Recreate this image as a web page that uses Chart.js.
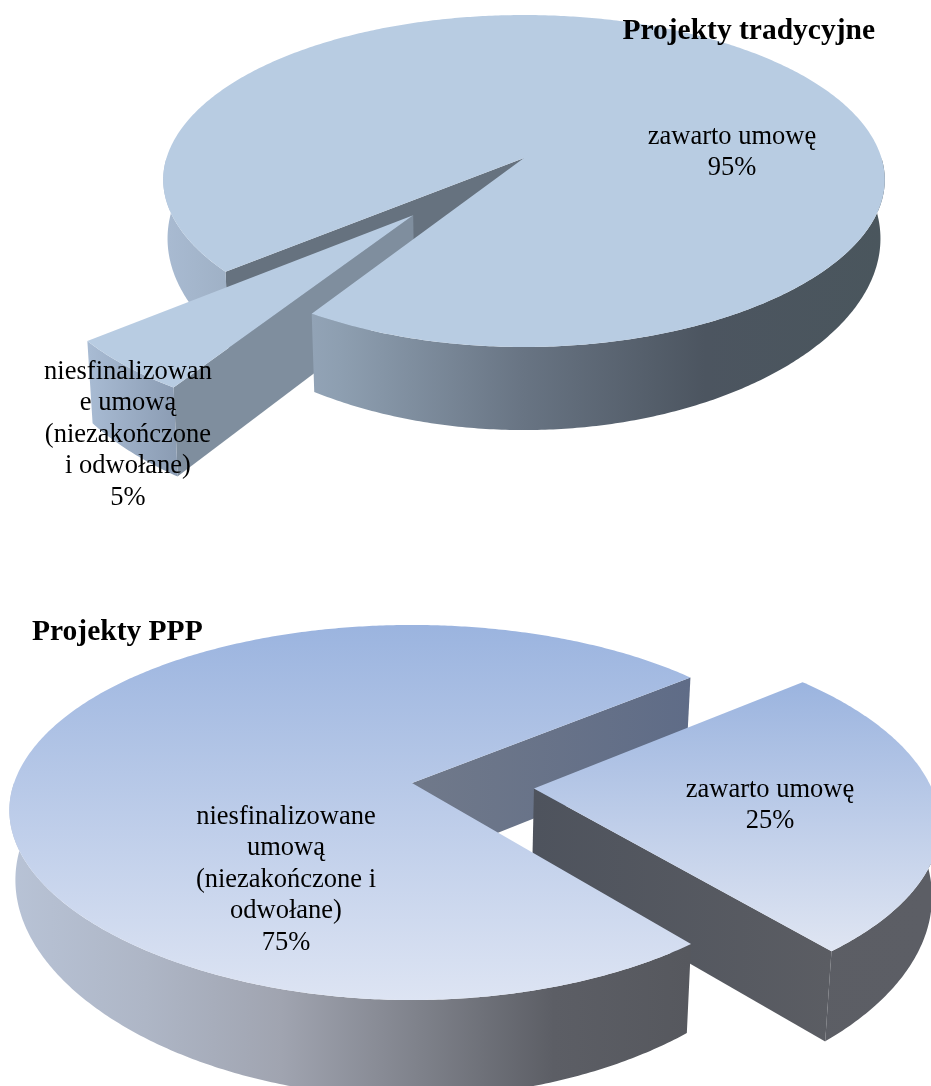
<!DOCTYPE html>
<html>
<head>
    <meta charset="utf-8">
    <script src="https://cdnjs.cloudflare.com/ajax/libs/Chart.js/4.4.1/chart.umd.min.js"></script>
    <style>
        html, body { margin: 0; background: #fff; overflow: hidden; }
        #wrap { position: relative; width: 931px; height: 1086px; }
        canvas { position: absolute; left: 0; }
    </style>
</head>
<body>
    <div id="wrap">
        <canvas id="chartTraditional" width="931" height="540" style="top:0"></canvas>
        <canvas id="chartPpp" width="931" height="486" style="top:600px"></canvas>
    </div>

    <script>
        const traditionalTitle = 'Projekty tradycyjne';
        const traditionalCategories = ['zawarto umowę', 'niesfinalizowane umową (niezakończone i odwołane)'];
        const traditionalLabelLines = [['zawarto umowę'], ['niesfinalizowan', 'e umową', '(niezakończone', 'i odwołane)']];
        const traditionalValues = [95, 5];
        const traditionalExplode = [0, 0.447];

        const pppTitle = 'Projekty PPP';
        const pppCategories = ['zawarto umowę', 'niesfinalizowane umową (niezakończone i odwołane)'];
        const pppLabelLines = [['zawarto umowę'], ['niesfinalizowane', 'umową', '(niezakończone i', 'odwołane)']];
        const pppValues = [25, 75];
        const pppExplode = [0.308, 0];

        const OFFSET_UNIT = 100;
        const LABEL_FONT = '26.5px "Liberation Serif"';
        const LINE_HEIGHT = 31.5;

        // perspective of the pie disc, the library only gives us the angles
        function project(view, u, v) {
            const w = 1 - view.p * v;
            const a = u > 0 ? view.Ar : view.A;
            return [view.cx + a * u / w, view.cy + view.B * v / w];
        }

        // bottom edge of a wall: rim and cut faces sink by different amounts
        function lowered(view, pt, depth, slope) {
            return [
                view.cx + (pt[0] - view.cx) * view.k,
                pt[1] + depth + slope * (pt[1] - view.cy)
            ];
        }

        function sliceGeometry(view, arc) {
            const frac = arc.options.offset / OFFSET_UNIT;
            const mid = (arc.startAngle + arc.endAngle) / 2;
            const ou = Math.cos(mid) * frac;
            const ov = Math.sin(mid) * frac;
            return {
                apex: project(view, ou, ov),
                at: a => {
                    // the near half of the disc comes in a little narrower
                    const s = Math.max(Math.sin(a), 0);
                    return project(view, ou + Math.cos(a) * (1 - view.q * s * s), ov + Math.sin(a));
                },
                start: arc.startAngle,
                end: arc.endAngle
            };
        }

        function hGradient(ctx, x0, x1, stops) {
            const g = ctx.createLinearGradient(x0, 0, x1, 0);
            stops.forEach((c, i) => g.addColorStop(stops.length > 1 ? i / (stops.length - 1) : 0, c));
            return g;
        }

        function fillPath(ctx, pts, fill) {
            ctx.beginPath();
            pts.forEach((p, i) => i ? ctx.lineTo(p[0], p[1]) : ctx.moveTo(p[0], p[1]));
            ctx.closePath();
            ctx.fillStyle = fill;
            ctx.fill();
        }

        function arcPoints(geo, a0, a1) {
            const n = Math.max(2, Math.ceil(Math.abs(a1 - a0) / 0.01));
            const pts = [];
            for (let i = 0; i <= n; i++) {
                pts.push(geo.at(a0 + (a1 - a0) * i / n));
            }
            return pts;
        }

        // parts of the rim that face the viewer (sin > 0)
        function frontSegments(a0, a1) {
            const segs = [];
            const tau = Math.PI * 2;
            for (let k = Math.floor(a0 / tau) - 1; k <= Math.ceil(a1 / tau); k++) {
                const lo = Math.max(a0, k * tau);
                const hi = Math.min(a1, k * tau + Math.PI);
                if (hi > lo) segs.push([lo, hi]);
            }
            return segs;
        }

        function drawRadial(ctx, view, geo, angle, style) {
            const q = geo.at(angle);
            const pts = [
                geo.apex, q,
                lowered(view, q, view.cutDepth, view.cutSlope),
                lowered(view, geo.apex, view.cutDepth, view.cutSlope)
            ];
            fillPath(ctx, pts, hGradient(ctx, Math.min(geo.apex[0], q[0]), Math.max(geo.apex[0], q[0]), style.radial));
        }

        function drawRim(ctx, view, seg, geo, style) {
            const top = arcPoints(geo, seg[0], seg[1]);
            const bottom = top.map(p => lowered(view, p, view.rimDepth, view.rimSlope)).reverse();
            fillPath(ctx, top.concat(bottom), hGradient(ctx, style.rimFrom, style.rimTo, style.rim));
        }

        function drawFace(ctx, geo, style) {
            const pts = [geo.apex].concat(arcPoints(geo, geo.start, geo.end));
            const ys = pts.map(p => p[1]);
            const g = ctx.createLinearGradient(0, Math.min.apply(null, ys), 0, Math.max.apply(null, ys));
            g.addColorStop(0, style.face[0]);
            g.addColorStop(1, style.face[1]);
            fillPath(ctx, pts, g);
        }

        function drawRadialsVisible(ctx, view, geo, style) {
            if (Math.cos(geo.start) < 0) drawRadial(ctx, view, geo, geo.start, style);
            if (Math.cos(geo.end) > 0) drawRadial(ctx, view, geo, geo.end, style);
        }

        const pie3d = {
            id: 'pie3d',
            beforeDraw(chart, args, opts) {
                const ctx = chart.ctx;
                const view = opts.view;
                const arcs = chart.getDatasetMeta(0).data;
                const geos = arcs.map(a => sliceGeometry(view, a));
                const whole = geos.findIndex((g, i) => !arcs[i].options.offset);
                const moved = whole === 0 ? 1 : 0;
                const g = geos[whole];
                const st = opts.styles[whole];

                // whole slice: walls behind the moved slice first
                drawRadialsVisible(ctx, view, g, st);
                const segs = frontSegments(g.start, g.end);
                const isBack = s => (s[0] === g.start && Math.cos(g.start) < 0) || (s[1] === g.end && Math.cos(g.end) > 0);
                segs.filter(isBack).forEach(s => drawRim(ctx, view, s, g, st));

                // then the moved slice
                const m = geos[moved];
                const ms = opts.styles[moved];
                drawRadialsVisible(ctx, view, m, ms);
                frontSegments(m.start, m.end).forEach(s => drawRim(ctx, view, s, m, ms));
                drawFace(ctx, m, ms);

                // whole slice in front of it
                segs.filter(s => !isBack(s)).forEach(s => drawRim(ctx, view, s, g, st));
                drawFace(ctx, g, st);
            },
            afterDraw(chart, args, opts) {
                const ctx = chart.ctx;
                const values = chart.data.datasets[0].data;
                ctx.save();
                ctx.fillStyle = '#000';
                ctx.font = LABEL_FONT;
                ctx.textAlign = 'center';
                ctx.textBaseline = 'middle';
                opts.labels.forEach((lines, i) => {
                    const pos = opts.labelAt[i];
                    lines.concat(values[i] + '%').forEach((line, j) => {
                        ctx.fillText(line, pos[0], pos[1] + j * LINE_HEIGHT);
                    });
                });
                ctx.restore();
            }
        };

        function makeChart(id, title, categories, values, explode, rotation, titleAlign, padding, opts) {
            return new Chart(document.getElementById(id), {
                type: 'pie',
                data: {
                    labels: categories,
                    datasets: [{
                        data: values,
                        backgroundColor: 'transparent',
                        borderWidth: 0,
                        offset: explode.map(f => f * OFFSET_UNIT)
                    }]
                },
                options: {
                    responsive: false,
                    animation: false,
                    rotation: rotation,
                    layout: { padding: padding },
                    plugins: {
                        legend: { display: false },
                        tooltip: { enabled: false },
                        title: {
                            display: true,
                            text: title,
                            align: titleAlign,
                            color: '#000',
                            padding: 0,
                            font: { family: '"Liberation Serif"', size: 29.5, weight: 'bold', lineHeight: 1.2 }
                        },
                        pie3d: opts
                    }
                },
                plugins: [pie3d]
            });
        }

        makeChart('chartTraditional', traditionalTitle, traditionalCategories, traditionalValues, traditionalExplode,
            230.4, 'end', { top: 14, right: 56 }, {
                view: {
                    cx: 524, cy: 158, A: 357.5, Ar: 357.5, B: 162.8, p: 0.1386, k: 0.988, q: 0.03,
                    rimDepth: 55.7, rimSlope: 0.145, cutDepth: 80, cutSlope: 0.0375
                },
                labels: traditionalLabelLines,
                labelAt: [[732, 137], [128, 372]],
                styles: [
                    {
                        face: ['#b8cce2', '#b8cce2'],
                        radial: ['#66727f', '#66727f'],
                        rim: ['#a9bbd2', '#8d9eb0', '#687483', '#4c5560', '#4a565d'],
                        rimFrom: 163, rimTo: 885
                    },
                    {
                        face: ['#b8cce2', '#b8cce2'],
                        radial: ['#7f8e9e', '#7f8e9e'],
                        rim: ['#a8bbd3', '#8a9bb2'],
                        rimFrom: 89, rimTo: 180
                    }
                ]
            });

        makeChart('chartPpp', pppTitle, pppCategories, pppValues, pppExplode,
            50.65, 'start', { top: 15, left: 32 }, {
                view: {
                    cx: 412, cy: 183, A: 398, Ar: 396, B: 182.9, p: 0.1573, k: 0.985, q: 0.04,
                    rimDepth: 65.7, rimSlope: 0.145, cutDepth: 84, cutSlope: 0.037
                },
                labels: pppLabelLines,
                labelAt: [[770, 190], [286, 217]],
                styles: [
                    {
                        face: ['#9bb4df', '#dfe5f2'],
                        radial: ['#4e535d', '#5b5d63'],
                        rim: ['#5b5d63', '#5c5e65'],
                        rimFrom: 534, rimTo: 931
                    },
                    {
                        face: ['#9bb4df', '#dde4f3'],
                        radial: ['#70798a', '#5f6c87'],
                        rim: ['#b8c3d6', '#aeb6c6', '#a0a4b0', '#7f828b', '#5c5e65', '#56585e'],
                        rimFrom: 9, rimTo: 690
                    }
                ]
            });
    </script>
</body>
</html>
